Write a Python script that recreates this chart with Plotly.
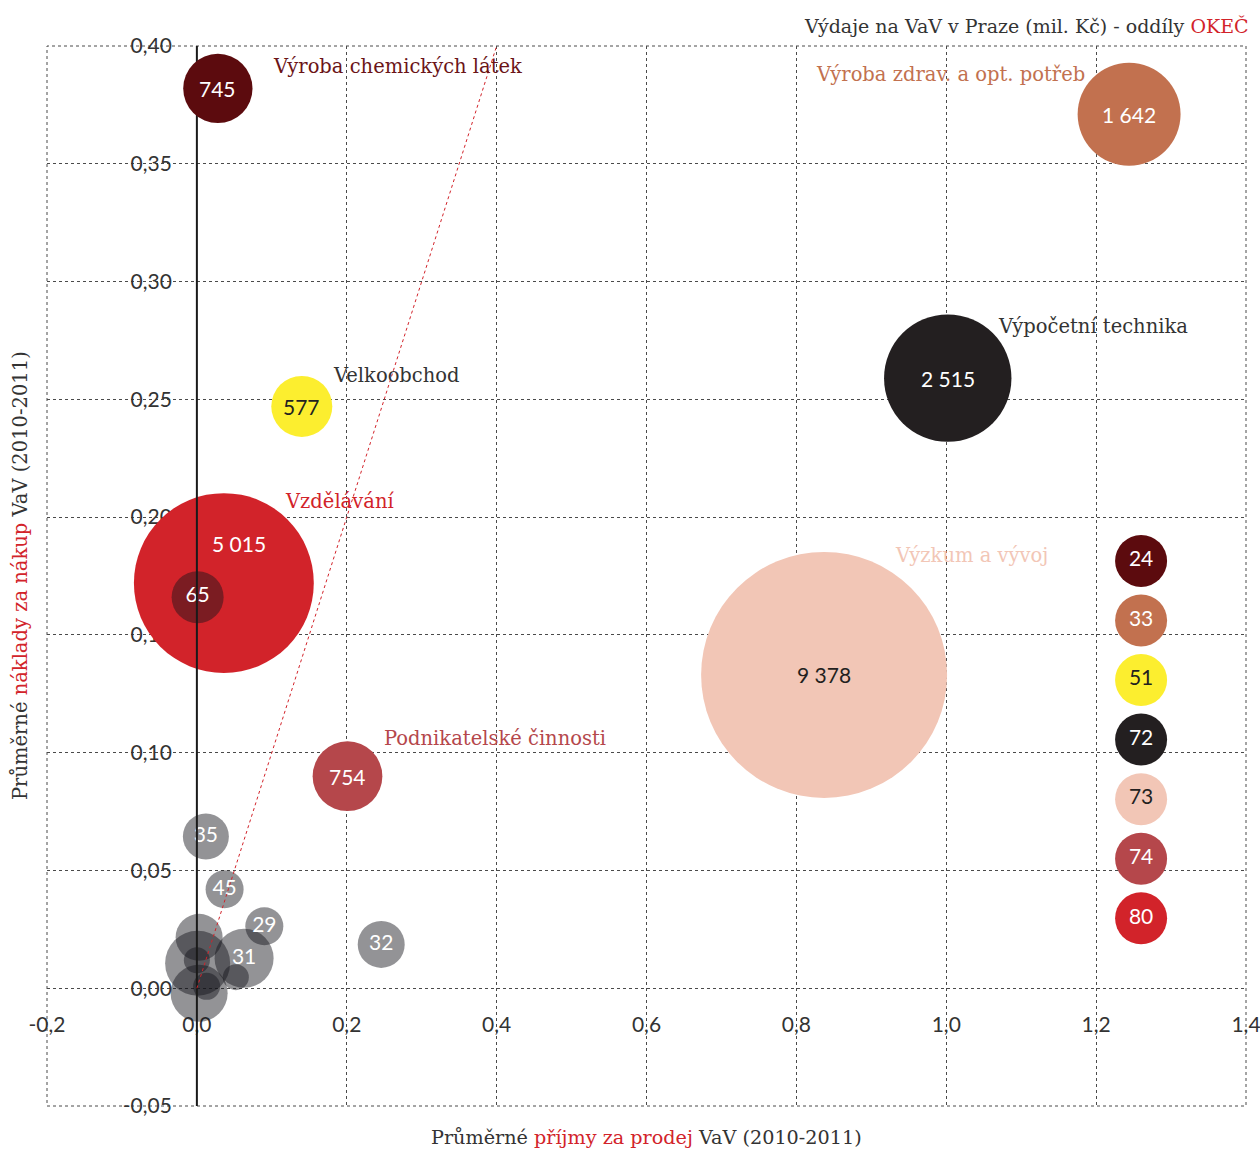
import numpy as np
import plotly.graph_objects as go

# ---------------- data ----------------
# labelled OKEČ divisions (bubble value = výdaje na VaV, mil. Kč)
main_codes = ["73", "72", "33", "51", "74", "80", "24"]
main_names = ["Výzkum a vývoj", "Výpočetní technika", "Výroba zdrav. a opt. potřeb",
              "Velkoobchod", "Podnikatelské činnosti", "Vzdělávání", "Výroba chemických látek"]
main_x = [0.837, 1.002, 1.244, 0.140, 0.201, 0.036, 0.028]
main_y = [0.133, 0.259, 0.371, 0.247, 0.090, 0.172, 0.382]
main_v = [9378, 2515, 1642, 577, 754, 5015, 745]

# other divisions (grey)
grey_codes = ["65", "35", "45", "29", "32", "31", "", "", "", "", "", ""]
grey_x = [0.001, 0.012, 0.037, 0.090, 0.246, 0.063, 0.003, 0.001, 0.003, 0.000, 0.013, 0.052]
grey_y = [0.166, 0.0644, 0.042, 0.0263, 0.0186, 0.0127, 0.0216, 0.0106, -0.0021, 0.0119, 0.0008, 0.0047]
grey_v = [419, 328, 224, 224, 342, 540, 342, 655, 504, 105, 113, 105]

# key column
key_codes = ["24", "33", "51", "72", "73", "74", "80"]

# axis ticks
x_ticks = [-0.2, 0.0, 0.2, 0.4, 0.6, 0.8, 1.0, 1.2, 1.4]
x_ticktext = ["-0,2", "0,0", "0,2", "0,4", "0,6", "0,8", "1,0", "1,2", "1,4"]
y_ticks = [-0.05, 0.0, 0.05, 0.10, 0.15, 0.20, 0.25, 0.30, 0.35, 0.40]
y_ticktext = ["-0,05", "0,00", "0,05", "0,10", "0,15", "0,20", "0,25", "0,30", "0,35", "0,40"]

# ---------------- style ----------------
X_RANGE = [-0.2, 1.4]
Y_RANGE = [-0.05, 0.40]
COL = {"24": "#5c0b0e", "33": "#c2714f", "51": "#fcee2f", "72": "#231f20",
       "73": "#f2c6b6", "74": "#b5474b", "80": "#d2232a"}
NUM_COL = {"24": "white", "33": "white", "51": "#231f20", "72": "white",
           "73": "#231f20", "74": "white", "80": "white"}
NAME_COL = {"24": "#6b1417", "33": "#c2714f", "51": "#333333", "72": "#333333",
            "73": "#f2c6b6", "74": "#b5474b", "80": "#d2232a"}
# label placement: (xshift px, yshift px) of left edge of name relative to bubble centre
NAME_SHIFT = {"24": (53, 22), "33": (-315, 40), "51": (29, 31), "72": (48, 52),
              "73": (69, 119), "74": (34, 38), "80": (59, 82)}
NUM_SHIFT = {"80": (15, 40)}
GREY = "rgba(20,20,26,0.46)"
GRID = "#4a4a4a"
SERIF = "DejaVu Serif"
SANS = "Lato"
K = 2.54  # px diameter per sqrt(mil. Kč)


def diam(v):
    return K * np.sqrt(np.asarray(v, dtype=float))


fig = go.Figure()

# main bubbles except 24
idx_first = [i for i, c in enumerate(main_codes) if c != "24"]
fig.add_trace(go.Scatter(
    x=[main_x[i] for i in idx_first], y=[main_y[i] for i in idx_first], mode="markers",
    marker=dict(size=diam([main_v[i] for i in idx_first]), sizemode="diameter",
                color=[COL[main_codes[i]] for i in idx_first], opacity=1, line=dict(width=0)),
    hoverinfo="skip", showlegend=False))

# grey bubbles
fig.add_trace(go.Scatter(
    x=grey_x, y=grey_y, mode="markers+text", text=grey_codes, textposition="middle center",
    textfont=dict(family=SANS, size=21, color="white"),
    marker=dict(size=diam(grey_v), sizemode="diameter", color=GREY, opacity=1, line=dict(width=0)),
    hoverinfo="skip", showlegend=False))

# vertical zero line
fig.add_trace(go.Scatter(x=[0, 0], y=Y_RANGE, mode="lines",
                         line=dict(color="#1a1a1a", width=2), hoverinfo="skip", showlegend=False))

# bubble 24 on top
i24 = main_codes.index("24")
fig.add_trace(go.Scatter(
    x=[main_x[i24]], y=[main_y[i24]], mode="markers",
    marker=dict(size=diam([main_v[i24]]), sizemode="diameter", color=COL["24"], opacity=1,
                line=dict(width=0)),
    hoverinfo="skip", showlegend=False))

# key column
key_y = np.linspace(0.1814, 0.0297, len(key_codes))
fig.add_trace(go.Scatter(
    x=[1.26] * len(key_codes), y=key_y, mode="markers+text", text=key_codes,
    textposition="middle center",
    textfont=dict(family=SANS, size=21, color=[NUM_COL[c] for c in key_codes]),
    marker=dict(size=52, color=[COL[c] for c in key_codes], opacity=1, line=dict(width=0)),
    hoverinfo="skip", showlegend=False))

ann = []
for c, n, x, y, v in zip(main_codes, main_names, main_x, main_y, main_v):
    sx, sy = NUM_SHIFT.get(c, (0, 0))
    ann.append(dict(x=x, y=y, xref="x", yref="y", text=f"{v:,}".replace(",", " "),
                    showarrow=False, xshift=sx, yshift=sy,
                    font=dict(family=SANS, size=21, color=NUM_COL[c])))
    nx, ny = NAME_SHIFT[c]
    ann.append(dict(x=x, y=y, xref="x", yref="y", text=n, showarrow=False,
                    xanchor="left", yanchor="middle", xshift=nx, yshift=ny,
                    font=dict(family=SERIF, size=19.5, color=NAME_COL[c])))

RED = "#d2232a"
ann.append(dict(x=1.004, y=1.019, xref="paper", yref="paper", xanchor="right", yanchor="middle",
                showarrow=False,
                text=f"Výdaje na VaV v Praze (mil. Kč) - oddíly <span style='color:{RED}'>OKEČ</span>",
                font=dict(family=SERIF, size=19, color="#333333")))
ann.append(dict(x=0.5, y=-0.030, xref="paper", yref="paper", xanchor="center", yanchor="middle",
                showarrow=False,
                text=f"Průměrné <span style='color:{RED}'>příjmy za prodej</span> VaV (2010-2011)",
                font=dict(family=SERIF, size=19.2, color="#333333")))
ann.append(dict(x=-0.0225, y=0.5, xref="paper", yref="paper", xanchor="center", yanchor="middle",
                showarrow=False, textangle=-90,
                text=f"Průměrné <span style='color:{RED}'>náklady za nákup</span> VaV (2010-2011)",
                font=dict(family=SERIF, size=19.5, color="#333333")))

axis_common = dict(showgrid=True, griddash="dot", gridcolor=GRID, gridwidth=1,
                   zeroline=False, showline=False, anchor="free", ticks="",
                   layer="below traces", ticklabeloverflow="allow", automargin=False,
                   tickfont=dict(family=SANS, size=21, color="#333333"))

fig.update_layout(
    width=1260, height=1151,
    margin=dict(l=47, r=14, t=46, b=45, autoexpand=False),
    paper_bgcolor="white", plot_bgcolor="white",
    hovermode=False,
    annotations=ann,
    shapes=[
        dict(type="rect", xref="paper", yref="paper", x0=0, y0=0, x1=1, y1=1,
             line=dict(color=GRID, width=1, dash="dot"), layer="below"),
        dict(type="line", xref="x", yref="y", x0=0, y0=0, x1=0.4, y1=0.4,
             line=dict(color=RED, width=1, dash="dot"), layer="above"),
    ],
    xaxis=dict(range=X_RANGE, tickvals=x_ticks, ticktext=x_ticktext, ticklabelstandoff=22,
               position=(0 - Y_RANGE[0]) / (Y_RANGE[1] - Y_RANGE[0]), **axis_common),
    yaxis=dict(range=Y_RANGE, tickvals=y_ticks, ticktext=y_ticktext, ticklabelstandoff=25,
               position=(0 - X_RANGE[0]) / (X_RANGE[1] - X_RANGE[0]), **axis_common),
)

fig.write_html("out.html", config={"displayModeBar": False},
               post_script="document.body.style.margin='0';document.body.style.overflow='hidden';")
